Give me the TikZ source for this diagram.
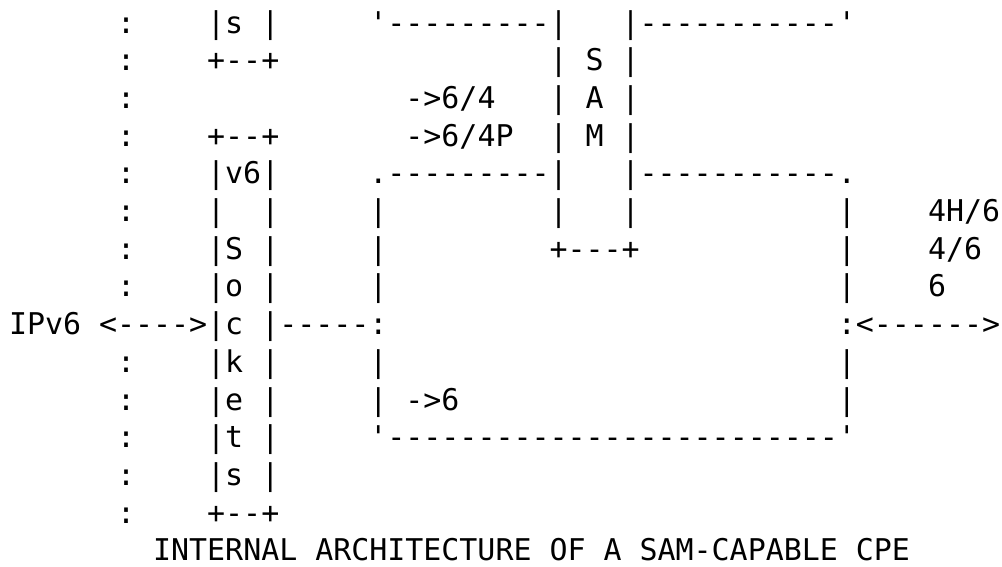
\documentclass[tikz,border=0pt]{standalone}
\usepackage{fontspec}
\setmonofont{DejaVu Sans Mono}
\usepackage{tikz}
\usetikzlibrary{positioning}
\newlength\chwd
\AtBeginDocument{\settowidth\chwd{\ttfamily\fontsize{10}{12}\selectfont 0}}
\newcommand\gap[1]{\hspace*{#1\chwd}}
\tikzset{
  asciirow/.style={
    anchor=base west, inner sep=0pt, outer sep=0pt,
    font=\ttfamily\fontsize{10}{12}\selectfont
  },
  titlerow/.style={asciirow}
}

\begin{document}
\begin{tikzpicture}[x=0.3341pt, y=-0.3341pt]
  \useasboundingbox (0,0) rectangle (1002,566);
  \node[asciirow] (row1) at (9,33) {\gap{6}:\gap{4}|s\gap{1}|\gap{5}'---------|\gap{3}|-----------'};
  \node[asciirow] (row2) at (9,70.7) {\gap{6}:\gap{4}+--+\gap{15}|\gap{1}S\gap{1}|};
  \node[asciirow] (row3) at (9,108.4) {\gap{6}:\gap{15}->6/4\gap{3}|\gap{1}A\gap{1}|};
  \node[asciirow] (row4) at (9,146.1) {\gap{6}:\gap{4}+--+\gap{7}->6/4P\gap{2}|\gap{1}M\gap{1}|};
  \node[asciirow] (row5) at (9,183.8) {\gap{6}:\gap{4}|v6|\gap{5}.---------|\gap{3}|-----------.};
  \node[asciirow] (row6) at (9,221.5) {\gap{6}:\gap{4}|\gap{2}|\gap{5}|\gap{9}|\gap{3}|\gap{11}|\gap{4}4H/6};
  \node[asciirow] (row7) at (9,259.2) {\gap{6}:\gap{4}|S\gap{1}|\gap{5}|\gap{9}+---+\gap{11}|\gap{4}4/6};
  \node[asciirow] (row8) at (9,296.9) {\gap{6}:\gap{4}|o\gap{1}|\gap{5}|\gap{25}|\gap{4}6};
  \node[asciirow] (row9) at (9,334.6) {IPv6\gap{1}<---->|c\gap{1}|-----:\gap{25}:<------>};
  \node[asciirow] (row10) at (9,372.3) {\gap{6}:\gap{4}|k\gap{1}|\gap{5}|\gap{25}|};
  \node[asciirow] (row11) at (9,410) {\gap{6}:\gap{4}|e\gap{1}|\gap{5}|\gap{1}->6\gap{21}|};
  \node[asciirow] (row12) at (9,447.7) {\gap{6}:\gap{4}|t\gap{1}|\gap{5}'-------------------------'};
  \node[asciirow] (row13) at (9,485.4) {\gap{6}:\gap{4}|s\gap{1}|};
  \node[asciirow] (row14) at (9,523.1) {\gap{6}:\gap{4}+--+};
  \node[titlerow] (title) at (9,560.8) {\gap{8}INTERNAL\gap{1}ARCHITECTURE\gap{1}OF\gap{1}A\gap{1}SAM-CAPABLE\gap{1}CPE};
\end{tikzpicture}
\end{document}
